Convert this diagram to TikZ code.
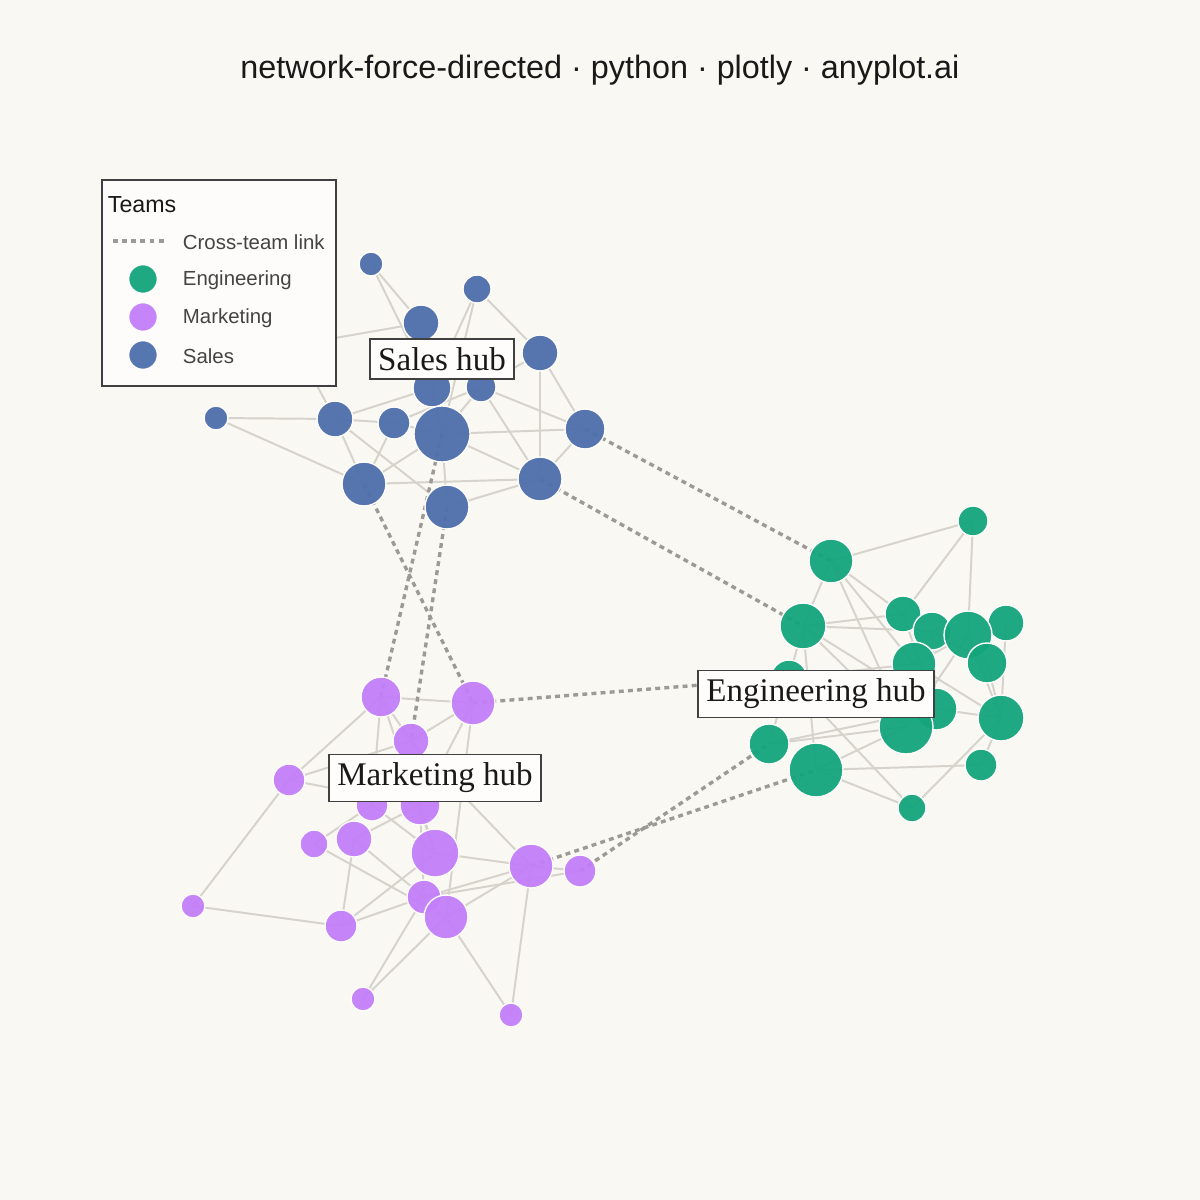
\documentclass[tikz,border=0pt]{standalone}
\usepackage{fontspec}
\setmainfont{Liberation Sans}
\newfontfamily\serifhub{Liberation Serif}
\definecolor{bg}{HTML}{FAF8F2}
\definecolor{cs}{HTML}{4E6FAB}
\definecolor{ce}{HTML}{14A57C}
\definecolor{cm}{HTML}{C47EFA}
\definecolor{edg}{HTML}{D6D2CC}
\definecolor{crs}{HTML}{9C9A96}
\definecolor{txt}{HTML}{444444}
\begin{document}
\begin{tikzpicture}[x=0.025cm,y=-0.025cm,
  nd/.style={circle,inner sep=0pt,draw=white!60!bg,line width=1pt,fill opacity=0.95},
  S/.style={nd,fill=cs},E/.style={nd,fill=ce},M/.style={nd,fill=cm},
  ed/.style={draw=edg,line width=1.4pt},
  cx/.style={draw=crs,line width=2.4pt,dash pattern=on 3.5pt off 3pt},
  hub/.style={draw=black!75,fill=white!70!bg,line width=1.1pt,font=\serifhub\fontsize{23.5}{25}\selectfont,inner sep=6pt,text=black!90}]
\fill[bg] (0,0) rectangle (1200,1200);
\useasboundingbox (0,0) rectangle (1200,1200);
\node[font=\fontsize{23}{27}\selectfont,text=black!90] (title) at (600,70) {network-force-directed · python · plotly · anyplot.ai};
% coordinates
\foreach \n/\x/\y/\r in {S1/371/264/12,S2/477/289/14,S3/421/323/18,S4/540/353/18,S5/432/388/19,S6/481/387/15,S7/216/418/12,S8/335/419/18,S9/394/423/16,S10/442/434/28,S11/585/429/20,S12/364/484/22,S13/540/479/22,S14/447/507/22,SH/295/345/14}
  {\coordinate (\n) at (\x,\y); \expandafter\xdef\csname r\n\endcsname{\r}}
\foreach \n/\x/\y/\r in {E0/973/521/15,E1/831/561/22,E2/803/626/23,E3/903/614/18,E4/932/631/19,E5/968/635/24,E6/1006/623/18,E7/914/664/22,E8/987/663/20,E9/789/678/18,E10/936/709/21,E11/906/727/27,E12/1001/718/23,E13/769/744/20,E14/816/770/27,E15/981/765/16,E16/912/808/14}
  {\coordinate (\n) at (\x,\y); \expandafter\xdef\csname r\n\endcsname{\r}}
\foreach \n/\x/\y/\r in {M1/381/697/20,M2/473/703/22,M3/411/741/18,M4/289/780/16,M5/372/805/16,M6/420/805/20,M7/314/844/14,M8/354/839/18,M9/435/853/24,M10/531/866/22,M11/580/871/16,M12/424/897/17,M13/446/917/22,M14/193/906/12,M15/341/926/16,M16/363/999/12,M17/511/1015/12}
  {\coordinate (\n) at (\x,\y); \expandafter\xdef\csname r\n\endcsname{\r}}
% edges
\foreach \a/\b in {S1/S3,S1/S5,S2/S5,S2/S10,S2/S4,S4/S11,S4/S13,S4/S6,S6/S11,S7/S8,S7/S12,S8/S9,S8/S12,S8/S14,S8/S5,S9/S10,S9/S12,S10/S11,S10/S13,S10/S14,S12/S13,S13/S14,S11/S13,S6/S13,S5/S10,S6/S10,SH/S3,SH/S8,S9/S6,S10/S12,
 E1/E0,E0/E3,E0/E5,E1/E2,E1/E3,E1/E7,E1/E11,E2/E3,E2/E4,E2/E10,E2/E11,E2/E9,E2/E14,E9/E7,E13/E11,E13/E10,E14/E11,E14/E15,E14/E16,E16/E12,E16/E9,E15/E12,E12/E10,E12/E5,E8/E5,E8/E12,E7/E5,E4/E10,E6/E12,E3/E10,E13/E9,E7/E12,E5/E11,E4/E8,
 M1/M2,M1/M5,M1/M4,M1/M3,M3/M2,M2/M6,M2/M13,M4/M14,M4/M3,M4/M6,M5/M7,M5/M9,M6/M8,M6/M12,M6/M9,M3/M10,M8/M12,M8/M15,M7/M13,M9/M10,M9/M15,M10/M12,M10/M13,M10/M11,M10/M17,M13/M17,M12/M16,M13/M16,M14/M15,M12/M15,M11/M12,M1/M9}
  {\draw[ed] (\a) -- (\b);}
% cross-team
\foreach \a/\b in {S11/E1,S13/E2,S10/M1,S14/M3,S12/M2,M2/E9,M10/E14,M11/E13}
  {\draw[cx] (\a) -- (\b);}
% nodes
\foreach \n in {SH,S1,S2,S3,S4,S5,S6,S7,S8,S9,S10,S11,S12,S13,S14}
  {\node[S,minimum size=2*\csname r\n\endcsname*0.0250cm] (n\n) at (\n) {};}
\foreach \n in {E0,E1,E2,E3,E4,E6,E5,E7,E8,E9,E10,E11,E12,E13,E14,E15,E16}
  {\node[E,minimum size=2*\csname r\n\endcsname*0.0250cm] (n\n) at (\n) {};}
\foreach \n in {M1,M2,M3,M4,M5,M6,M7,M8,M9,M10,M11,M12,M13,M14,M15,M16,M17}
  {\node[M,minimum size=2*\csname r\n\endcsname*0.0250cm] (n\n) at (\n) {};}
% hub labels
\node[hub] (hs) at (442,359) {Sales hub};
\node[hub] (he) at (816,694) {Engineering hub};
\node[hub] (hm) at (435,778) {Marketing hub};
% legend
\draw[fill=white!60!bg,draw=black!75,line width=1pt] (102,180) rectangle (336,386);
\node[anchor=west,font=\fontsize{16.5}{18}\selectfont,text=black!90] (lt) at (103,205) {Teams};
\coordinate (la) at (113,241); \coordinate (lb) at (167,241);
\draw[cx] (la) -- (lb);
\node[anchor=west,font=\fontsize{14.5}{16}\selectfont,text=txt] (l1) at (178,242) {Cross-team link};
\node[E,minimum size=0.72cm] (le) at (143,279) {};
\node[anchor=west,font=\fontsize{14.5}{16}\selectfont,text=txt] (l2) at (178,280) {Engineering};
\node[M,minimum size=0.72cm] (lm) at (143,317) {};
\node[anchor=west,font=\fontsize{14.5}{16}\selectfont,text=txt] (l3) at (178,318) {Marketing};
\node[S,minimum size=0.72cm] (ls) at (143,355) {};
\node[anchor=west,font=\fontsize{14.5}{16}\selectfont,text=txt] (l4) at (178,356) {Sales};
\end{tikzpicture}
\end{document}
